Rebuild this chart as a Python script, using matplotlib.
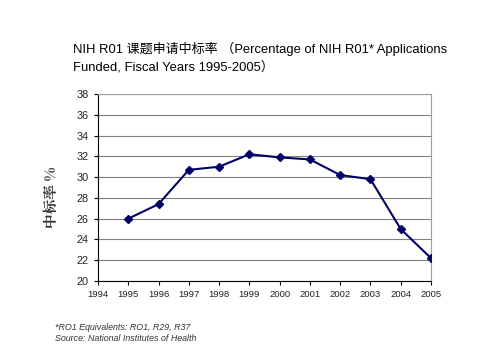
import matplotlib
matplotlib.use("Agg")
import matplotlib.pyplot as plt

plt.rcParams['font.family'] = ['Liberation Sans', 'Noto Sans CJK SC', 'DejaVu Sans']

years = [1995, 1996, 1997, 1998, 1999, 2000, 2001, 2002, 2003, 2004, 2005]
rates = [26.0, 27.4, 30.7, 31.0, 32.2, 31.9, 31.7, 30.2, 29.8, 25.0, 22.2]

title = "NIH R01 课题申请中标率 （Percentage of NIH R01* Applications\nFunded, Fiscal Years 1995-2005）"
ylabel = "中标率 %"
notes = "*RO1 Equivalents: RO1, R29, R37\nSource: National Institutes of Health"

fig = plt.figure(figsize=(4.9, 3.53), dpi=100, facecolor="white")
ax = fig.add_axes([98 / 490, 1 - 281 / 353, (431 - 98) / 490, (281 - 94) / 353])

ax.plot(years, rates, color="#000066", lw=1.5, marker="D", ms=4, zorder=3)

ax.set_xlim(1994, 2005)
ax.set_ylim(20, 38)
ax.set_xticks(range(1994, 2006))
ax.set_yticks(range(20, 39, 2))
ax.grid(axis="y", color="#808080", lw=0.8)
ax.set_axisbelow(True)

for s in ("top", "right"):
    ax.spines[s].set_color("#a0a0a0")
    ax.spines[s].set_linewidth(0.8)
for s in ("left", "bottom"):
    ax.spines[s].set_color("black")
    ax.spines[s].set_linewidth(0.8)
ax.tick_params(axis="x", labelsize=6.8, length=3, direction="out", colors="black", labelcolor="#222222")
ax.tick_params(axis="y", labelsize=7.8, length=3, direction="out", colors="black", labelcolor="#222222")

fig.text(52 / 490, 1 - 197 / 353, ylabel, rotation=90, ha="center", va="center",
         fontsize=10.5, fontweight="bold", color="#333333",
         family=['Noto Serif CJK SC', 'Noto Sans CJK SC', 'DejaVu Sans'])

fig.text(73 / 490, 1 - 42 / 353, title, ha="left", va="top", fontsize=9.4, linespacing=1.5)

fig.text(55 / 490, 1 - 323 / 353, notes, ha="left", va="top", fontsize=6.4,
         style="italic", color="#333333", linespacing=1.3)

fig.savefig("out.png", dpi=100, facecolor="white")
